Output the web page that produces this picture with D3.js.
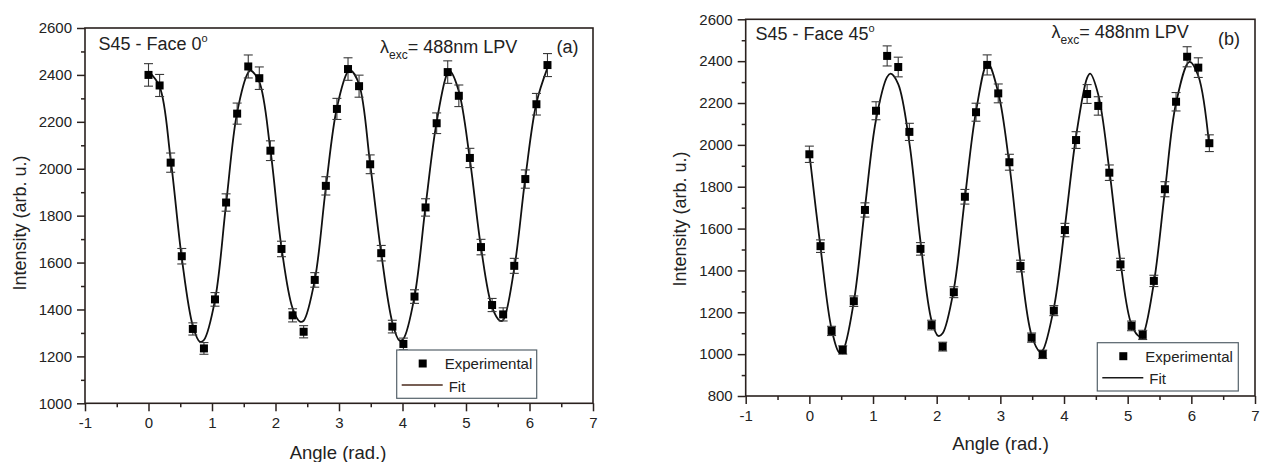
<!DOCTYPE html>
<html><head><meta charset="utf-8">
<script src="https://cdn.jsdelivr.net/npm/d3@7"></script>
<style>
html,body{margin:0;padding:0;background:#fff;}
svg{display:block;font-family:"Liberation Sans",Arial,sans-serif;}
</style></head><body>
<svg id="c" width="1262" height="462"></svg>
<script>
// ---- data ----
const angles = [0,0.175,0.349,0.524,0.698,0.873,1.047,1.222,1.396,1.571,1.745,1.920,2.094,2.269,2.443,2.618,2.793,2.967,3.142,3.316,3.491,3.665,3.840,4.014,4.189,4.363,4.538,4.712,4.887,5.061,5.236,5.411,5.585,5.760,5.934,6.109,6.283];

const intensityA = [2400,2355,2026,1627,1317,1234,1443,1856,2235,2436,2386,2077,1658,1375,1305,1526,1927,2255,2425,2352,2019,1640,1327,1253,1455,1835,2194,2412,2311,2046,1666,1419,1379,1586,1956,2275,2442];
const errorA = [48,47,41,33,26,25,29,37,45,49,48,42,33,28,26,31,39,45,48,47,40,33,27,25,29,37,44,48,46,41,33,28,28,32,39,46,49];
const fitXA = [0,0.175,0.349,0.524,0.698,0.811,0.873,1.047,1.222,1.396,1.571,1.61,1.745,1.920,2.094,2.269,2.386,2.443,2.618,2.793,2.967,3.142,3.18,3.316,3.491,3.665,3.840,3.95,4.014,4.189,4.363,4.538,4.712,4.75,4.887,5.061,5.236,5.411,5.535,5.585,5.760,5.934,6.109,6.283];
const fitYA = [2415,2350,2040,1620,1330,1262,1270,1440,1850,2240,2410,2418,2370,2080,1665,1405,1348,1352,1525,1920,2260,2415,2420,2360,2020,1640,1345,1268,1275,1455,1840,2200,2410,2415,2330,2040,1665,1410,1352,1355,1575,1960,2280,2430];

const intensityB = [1955,1516,1111,1020,1253,1689,2163,2425,2372,2062,1503,1139,1036,1296,1752,2156,2382,2246,1917,1421,1079,999,1208,1593,2023,2243,2186,1867,1429,1135,1092,1350,1788,2206,2421,2369,2008];
const errorB = [39,30,22,20,25,34,43,48,47,41,30,23,21,26,35,43,48,45,38,28,22,20,24,32,40,45,44,37,29,23,22,27,36,44,48,47,40];
const fitXB = [0,0.175,0.349,0.47,0.524,0.698,0.873,1.047,1.222,1.277,1.396,1.571,1.745,1.920,2.025,2.094,2.269,2.443,2.618,2.80,2.967,3.142,3.316,3.491,3.62,3.665,3.840,4.014,4.189,4.363,4.41,4.538,4.712,4.887,5.061,5.19,5.236,5.411,5.585,5.760,5.97,6.109,6.283];
const fitYB = [1960,1510,1120,1008,1015,1250,1700,2120,2325,2340,2290,2010,1540,1160,1087,1100,1310,1745,2160,2390,2250,1905,1440,1090,1012,1018,1220,1610,2040,2320,2340,2240,1880,1440,1140,1084,1090,1340,1780,2200,2397,2330,1990];

const xTicks = [-1,0,1,2,3,4,5,6,7];
const yTicksA = [1000,1200,1400,1600,1800,2000,2200,2400,2600];
const yTicksB = [800,1000,1200,1400,1600,1800,2000,2200,2400,2600];

const xTitle = "Angle (rad.)";
const yTitle = "Intensity (arb. u.)";
const legendLabels = ["Experimental","Fit"];

// ---- layout ----
const panels = [
  {x0:85, x1:593, y0:28, y1:403.3, yDom:[1000,2600], yTicks:yTicksA, y:intensityA, e:errorA, fx:fitXA, fy:fitYA,
   title:"S45 - Face 0", tx:98.5, ty:50, lamX:380, lamY:52.5, tag:"(a)", tagX:556.5, tagY:53,
   xt:[338,459], yt:[20,223], leg:{x:396.7,y:350,w:140,h:48.3, lineColor:"#4a2a1c"}, yMinor:100},
  {x0:745.7, x1:1255, y0:19.3, y1:396, yDom:[800,2600], yTicks:yTicksB, y:intensityB, e:errorB, fx:fitXB, fy:fitYB,
   title:"S45 - Face 45", tx:755.5, ty:40, lamX:1051.5, lamY:38, tag:"(b)", tagX:1218, tagY:45,
   xt:[1000.5,450], yt:[680,219], leg:{x:1097.3,y:342.7,w:141,h:48.3, lineColor:"#1a1a1a"}, yMinor:100}
];

const svg = d3.select("#c");
const axisColor = "#2a211e";
const textColor = "#222";
const fmt = d => String(d);

panels.forEach(p => {
  const xs = d3.scaleLinear().domain([-1,7]).range([p.x0,p.x1]);
  const ys = d3.scaleLinear().domain(p.yDom).range([p.y1,p.y0]);
  const g = svg.append("g");

  // frame
  g.append("rect").attr("x",p.x0).attr("y",p.y0).attr("width",p.x1-p.x0).attr("height",p.y1-p.y0)
    .attr("fill","none").attr("stroke",axisColor).attr("stroke-width",1.6);

  // x axis
  const xa = g.append("g").attr("transform",`translate(0,${p.y1})`)
    .call(d3.axisBottom(xs).tickValues(xTicks).tickFormat(fmt).tickSize(8).tickPadding(6.5));
  xa.select(".domain").remove();
  xa.selectAll("line").attr("stroke",axisColor).attr("stroke-width",1.5);
  xa.selectAll("text").attr("fill",textColor).style("font-size","15px").style("font-family","Liberation Sans, Arial, sans-serif");
  const xMinor = d3.range(-0.5,7,1);
  g.append("g").attr("transform",`translate(0,${p.y1})`)
    .call(d3.axisBottom(xs).tickValues(xMinor).tickFormat("").tickSize(4))
    .call(s=>{s.select(".domain").remove(); s.selectAll("line").attr("stroke",axisColor).attr("stroke-width",1.5);});

  // y axis
  const ya = g.append("g").attr("transform",`translate(${p.x0},0)`)
    .call(d3.axisLeft(ys).tickValues(p.yTicks).tickFormat(fmt).tickSize(8).tickPadding(5));
  ya.select(".domain").remove();
  ya.selectAll("line").attr("stroke",axisColor).attr("stroke-width",1.5);
  ya.selectAll("text").attr("fill",textColor).style("font-size","15px").style("font-family","Liberation Sans, Arial, sans-serif");
  const yMinorVals = d3.range(p.yDom[0]+p.yMinor, p.yDom[1], 200);
  g.append("g").attr("transform",`translate(${p.x0},0)`)
    .call(d3.axisLeft(ys).tickValues(yMinorVals).tickFormat("").tickSize(4))
    .call(s=>{s.select(".domain").remove(); s.selectAll("line").attr("stroke",axisColor).attr("stroke-width",1.5);});

  // fit line
  const fitPts = p.fx.map((x,i)=>[x,p.fy[i]]);
  g.append("path").datum(fitPts)
    .attr("d", d3.line().x(d=>xs(d[0])).y(d=>ys(d[1])).curve(d3.curveCatmullRom.alpha(0.5)))
    .attr("fill","none").attr("stroke","#111").attr("stroke-width",1.8);

  // error bars
  const pts = angles.map((a,i)=>({a, v:p.y[i], e:p.e[i]}));
  const eb = g.append("g").attr("stroke","#3a3a3a").attr("stroke-width",1.1);
  pts.forEach(d=>{
    const cx = xs(d.a), t = ys(d.v+d.e), b = ys(d.v-d.e);
    eb.append("line").attr("x1",cx).attr("x2",cx).attr("y1",t).attr("y2",b);
    eb.append("line").attr("x1",cx-4.5).attr("x2",cx+4.5).attr("y1",t).attr("y2",t);
    eb.append("line").attr("x1",cx-4.5).attr("x2",cx+4.5).attr("y1",b).attr("y2",b);
  });
  // markers
  g.append("g").selectAll("rect").data(pts).join("rect")
    .attr("x",d=>xs(d.a)-4).attr("y",d=>ys(d.v)-4).attr("width",8).attr("height",8).attr("fill","#000");

  // title
  const t = g.append("text").attr("x",p.tx).attr("y",p.ty).attr("fill",textColor).style("font-size","18px");
  t.append("tspan").text(p.title);
  t.append("tspan").attr("dy",-8).style("font-size","11px").text("o");

  // lambda
  const l = g.append("text").attr("x",p.lamX).attr("y",p.lamY).attr("fill",textColor).style("font-size","18px");
  l.append("tspan").text("λ");
  l.append("tspan").attr("dy",6).style("font-size","12px").text("exc");
  l.append("tspan").attr("dy",-6).text("= 488nm LPV");

  g.append("text").attr("x",p.tagX).attr("y",p.tagY).attr("fill",textColor).style("font-size","18px").text(p.tag);

  // axis titles
  g.append("text").attr("x",p.xt[0]).attr("y",p.xt[1]).attr("text-anchor","middle").attr("fill",textColor)
    .style("font-size","18.5px").text(xTitle);
  g.append("text").attr("transform",`translate(${p.yt[0]},${p.yt[1]}) rotate(-90)`).attr("text-anchor","middle")
    .attr("dy","0.35em").attr("fill",textColor).style("font-size","18px").text(yTitle);

  // legend
  const L = p.leg;
  const lg = g.append("g");
  lg.append("rect").attr("x",L.x).attr("y",L.y).attr("width",L.w).attr("height",L.h)
    .attr("fill","#fff").attr("stroke","#55626a").attr("stroke-width",1.2);
  lg.append("rect").attr("x",L.x+22).attr("y",L.y+9.5).attr("width",8).attr("height",8).attr("fill","#000");
  lg.append("text").attr("x",L.x+48).attr("y",L.y+19).attr("fill",textColor).style("font-size","15px").text(legendLabels[0]);
  lg.append("line").attr("x1",L.x+5).attr("x2",L.x+46).attr("y1",L.y+35).attr("y2",L.y+35)
    .attr("stroke",L.lineColor).attr("stroke-width",1.6);
  lg.append("text").attr("x",L.x+52).attr("y",L.y+41.5).attr("fill",textColor).style("font-size","15px").text(legendLabels[1]);
});
</script>
</body></html>
